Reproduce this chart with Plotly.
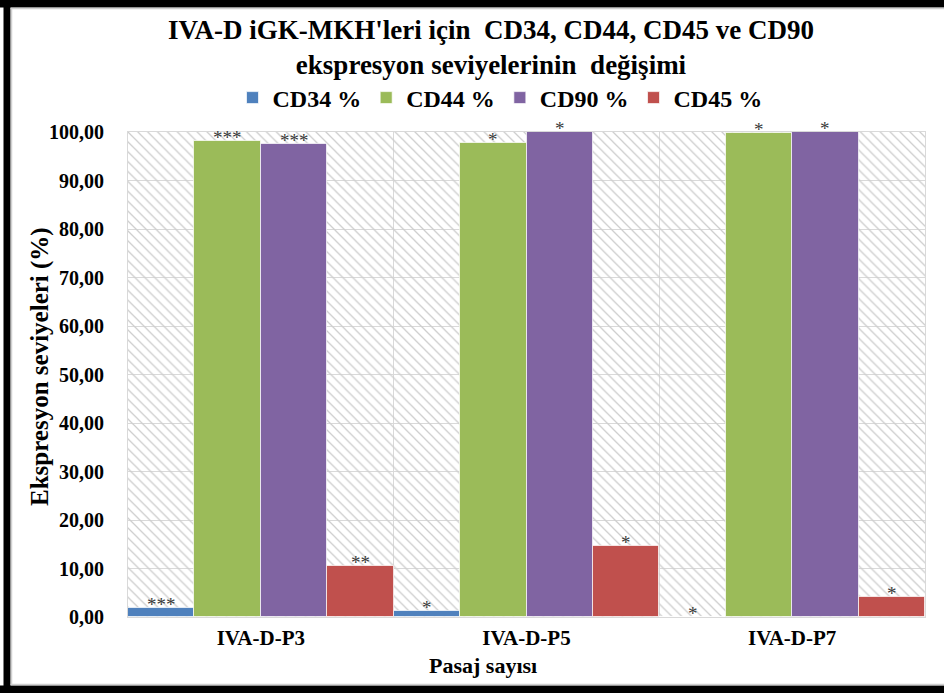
import plotly.graph_objects as go

# ---- data ----
categories = ["IVA-D-P3", "IVA-D-P5", "IVA-D-P7"]
series_names = ["CD34 %", "CD44 %", "CD90 %", "CD45 %"]
cd34 = [1.9, 1.2, 0.0]
cd44 = [98.1, 97.7, 99.8]
cd90 = [97.6, 99.9, 99.9]
cd45 = [10.5, 14.6, 4.1]
sig_cd34 = ["***", "*", "*"]
sig_cd44 = ["***", "*", "*"]
sig_cd90 = ["***", "*", "*"]
sig_cd45 = ["**", "*", "*"]
y_ticks = [0, 10, 20, 30, 40, 50, 60, 70, 80, 90, 100]
Y_MAX = 100

colors = ["#4F81BD", "#9BBB59", "#8064A2", "#C0504D"]
values = [cd34, cd44, cd90, cd45]
sigs = [sig_cd34, sig_cd44, sig_cd90, sig_cd45]

FONT = "Liberation Serif"
W, H = 944, 693
ML, MR, MT, MB = 128, 19, 132, 76
PW, PH = W - ML - MR, H - MT - MB

fig = go.Figure()

# hatched plot-area background (on base axes, below data)
fig.add_trace(go.Bar(
    x=[len(categories) / 2], y=[Y_MAX], width=[len(categories)],
    xaxis="x", yaxis="y",
    marker=dict(color="rgba(0,0,0,0)", line=dict(width=0),
                pattern=dict(shape="\\", fgcolor="#cdcdcd", bgcolor="rgba(0,0,0,0)",
                             size=7, solidity=0.18, fillmode="replace")),
    showlegend=False, hoverinfo="skip",
))

for name, vals, col in zip(series_names, values, colors):
    fig.add_trace(go.Bar(
        name=name, x=categories, y=vals, xaxis="x2", yaxis="y2",
        marker=dict(color=col, line=dict(color="rgba(255,255,255,0.7)", width=1)),
        hovertemplate="%{x}: %{y:.2f}<extra>" + name + "</extra>",
    ))

def px_x(p):
    return (p - ML) / PW

def px_y(p):
    return (H - MB - p) / PH

# significance asterisks above each bar (category index + group offset)
n_series = len(series_names)
annotations = []
for s, (vals, sg) in enumerate(zip(values, sigs)):
    offset = (s + 0.5) / n_series - 0.5
    for i, (v, t) in enumerate(zip(vals, sg)):
        annotations.append(dict(
            x=i + offset, y=v, xref="x2", yref="y2", text=t, showarrow=False,
            yanchor="bottom", yshift=-9,
            font=dict(family=FONT, size=19, color="#3a3a3a"),
        ))

annotations.append(dict(
    text="<b>Ekspresyon seviyeleri (%)</b>", xref="paper", yref="paper",
    x=px_x(40), y=px_y(367), textangle=-90, showarrow=False,
    xanchor="center", yanchor="middle",
    font=dict(family=FONT, size=25, color="black"),
))
annotations.append(dict(
    text="<b>Pasaj sayısı</b>", xref="paper", yref="paper",
    x=px_x(483), y=px_y(665), showarrow=False,
    xanchor="center", yanchor="middle",
    font=dict(family=FONT, size=22, color="black"),
))

shapes = [
    # black frame: top, left, bottom
    dict(type="rect", xref="paper", yref="paper", x0=px_x(0), x1=px_x(W), y0=px_y(7.5), y1=px_y(0),
         fillcolor="black", line=dict(width=0), layer="above"),
    dict(type="rect", xref="paper", yref="paper", x0=px_x(3.5), x1=px_x(10.5), y0=px_y(H), y1=px_y(0),
         fillcolor="black", line=dict(width=0), layer="above"),
    dict(type="rect", xref="paper", yref="paper", x0=px_x(0), x1=px_x(W), y0=px_y(H), y1=px_y(685.5),
         fillcolor="black", line=dict(width=0), layer="above"),
    # thin light inner lines
    dict(type="line", xref="paper", yref="paper", x0=px_x(10.5), x1=px_x(W), y0=px_y(8.5), y1=px_y(8.5),
         line=dict(color="#d0d0d0", width=1.5)),
    dict(type="line", xref="paper", yref="paper", x0=px_x(11.5), x1=px_x(11.5), y0=px_y(8.5), y1=px_y(684.5),
         line=dict(color="#d0d0d0", width=1.5)),
    dict(type="line", xref="paper", yref="paper", x0=px_x(10.5), x1=px_x(W), y0=px_y(684.5), y1=px_y(684.5),
         line=dict(color="#d0d0d0", width=1.5)),
]

fig.update_layout(
    width=W, height=H,
    margin=dict(l=ML, r=MR, t=MT, b=MB, pad=0),
    paper_bgcolor="white", plot_bgcolor="white",
    separators=",.",
    font=dict(family=FONT, color="black"),
    title=dict(
        text="<b>IVA-D iGK-MKH'leri için  CD34, CD44, CD45 ve CD90<br>ekspresyon seviyelerinin  değişimi</b>",
        x=491 / W, xanchor="center", xref="container",
        y=1 - 39 / H, yanchor="middle", yref="container",
        font=dict(family=FONT, size=27, color="black"),
    ),
    legend=dict(
        orientation="h", x=px_x(500), xanchor="center", y=px_y(98), yanchor="middle",
        font=dict(family=FONT, size=24, color="black", weight="bold"),
        itemwidth=30, bgcolor="rgba(0,0,0,0)",
    ),
    barmode="group", bargap=0, bargroupgap=0,
    xaxis=dict(
        range=[0, len(categories)], showgrid=True, dtick=1, tick0=0,
        gridcolor="#d9d9d9", gridwidth=1, showticklabels=False, zeroline=False,
        showline=True, linecolor="#d9d9d9", mirror=True, fixedrange=True,
    ),
    yaxis=dict(
        range=[0, Y_MAX], tickvals=y_ticks, tickformat=".2f", showgrid=True,
        gridcolor="#d9d9d9", gridwidth=1, zeroline=False,
        showline=True, linecolor="#d9d9d9", mirror=True,
        tickfont=dict(family=FONT, size=20, color="black", weight="bold"),
        ticklabelstandoff=19,
    ),
    xaxis2=dict(
        overlaying="x", anchor="y", side="bottom", type="category",
        range=[-0.5, len(categories) - 0.5],
        showgrid=False, zeroline=False, showline=False,
        tickfont=dict(family=FONT, size=21, color="black", weight="bold"),
        ticklabelstandoff=6,
    ),
    yaxis2=dict(overlaying="y", anchor="x", range=[0, Y_MAX], visible=False),
    shapes=shapes,
    annotations=annotations,
)

fig.write_html("out.html", config={"displayModeBar": False},
               post_script="document.body.style.margin='0px';")
